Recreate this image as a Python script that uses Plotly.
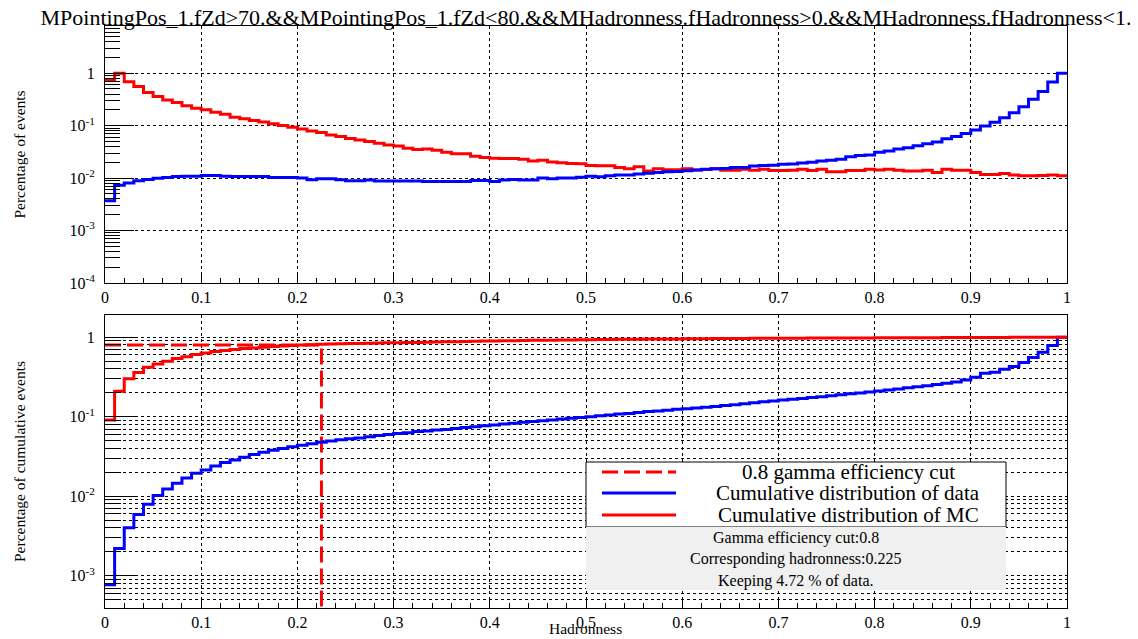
import numpy as np
import plotly.graph_objects as go

# ---------------- data ----------------
bin_edges = np.round(np.linspace(0.0, 1.0, 101), 2)  # Hadronness bins (width 0.01)

mc_pct = [0.75, 1.0, 0.69, 0.56, 0.43, 0.36, 0.31, 0.275, 0.24, 0.214,
          0.20, 0.18, 0.165, 0.144, 0.136, 0.125, 0.118, 0.109, 0.101, 0.093,
          0.086, 0.079, 0.074, 0.066, 0.062, 0.057, 0.053, 0.050, 0.046, 0.043,
          0.041, 0.037, 0.035, 0.036, 0.034, 0.031, 0.029, 0.029, 0.026, 0.0248,
          0.024, 0.0237, 0.0237, 0.0228, 0.0211, 0.022, 0.0203, 0.0197, 0.019, 0.0188,
          0.0174, 0.0172, 0.0172, 0.016, 0.015, 0.0164, 0.0136, 0.015, 0.0145, 0.0145,
          0.015, 0.0143, 0.0146, 0.015, 0.0141, 0.0141, 0.0147, 0.0141, 0.0147, 0.014,
          0.014, 0.0141, 0.0147, 0.014, 0.0147, 0.0132, 0.0132, 0.014, 0.014, 0.0147,
          0.0143, 0.0147, 0.0141, 0.0137, 0.0137, 0.0141, 0.0128, 0.0147, 0.0141, 0.0141,
          0.0128, 0.0117, 0.0117, 0.0122, 0.0115, 0.0111, 0.0111, 0.0112, 0.0115, 0.0111]

data_pct = [0.0037, 0.0073, 0.0081, 0.0089, 0.0094, 0.0099, 0.0103, 0.0107, 0.0109, 0.0109,
            0.0112, 0.0112, 0.0109, 0.0107, 0.0107, 0.0107, 0.0107, 0.0103, 0.0103, 0.0103,
            0.0101, 0.0093, 0.0097, 0.0097, 0.0093, 0.0089, 0.0089, 0.0092, 0.0088, 0.0088,
            0.0088, 0.0088, 0.0088, 0.0086, 0.0086, 0.0086, 0.0086, 0.0086, 0.009, 0.009,
            0.0086, 0.0092, 0.0094, 0.0092, 0.0092, 0.010, 0.0097, 0.010, 0.0101, 0.0104,
            0.0109, 0.0106, 0.0111, 0.0115, 0.0115, 0.012, 0.0124, 0.0128, 0.0132, 0.0134,
            0.0138, 0.0143, 0.0147, 0.015, 0.0153, 0.016, 0.0160, 0.017, 0.0173, 0.0176,
            0.0183, 0.0186, 0.0194, 0.0201, 0.0211, 0.0218, 0.0228, 0.0256, 0.027, 0.0277,
            0.031, 0.033, 0.0358, 0.038, 0.0415, 0.045, 0.049, 0.056, 0.062, 0.071,
            0.083, 0.099, 0.116, 0.142, 0.177, 0.23, 0.32, 0.45, 0.68, 1.0]

mc_cum = [0.091, 0.21, 0.30, 0.36, 0.42, 0.46, 0.50, 0.54, 0.57, 0.605,
          0.635, 0.66, 0.68, 0.70, 0.72, 0.735, 0.75, 0.763, 0.775, 0.787,
          0.797, 0.806, 0.814, 0.82, 0.826, 0.832, 0.837, 0.842, 0.847, 0.851,
          0.855, 0.859, 0.862, 0.866, 0.870, 0.875, 0.880, 0.885, 0.890, 0.895,
          0.899, 0.903, 0.907, 0.911, 0.914, 0.917, 0.920, 0.923, 0.926, 0.929,
          0.932, 0.935, 0.938, 0.941, 0.944, 0.946, 0.948, 0.950, 0.952, 0.954,
          0.956, 0.958, 0.960, 0.962, 0.964, 0.966, 0.968, 0.970, 0.971, 0.972,
          0.973, 0.974, 0.975, 0.976, 0.977, 0.978, 0.979, 0.980, 0.981, 0.982,
          0.983, 0.984, 0.985, 0.986, 0.987, 0.988, 0.989, 0.990, 0.991, 0.992,
          0.993, 0.994, 0.995, 0.996, 0.997, 0.998, 0.999, 0.9995, 1.0, 1.0]

data_cum = [0.00077, 0.0022, 0.0040, 0.0059, 0.0079, 0.0102, 0.0123, 0.0146, 0.0169, 0.0195,
            0.0214, 0.024, 0.0265, 0.0286, 0.031, 0.0334, 0.0358, 0.038, 0.040, 0.042,
            0.0438, 0.0457, 0.0479, 0.0494, 0.0513, 0.053, 0.0542, 0.0562, 0.058, 0.0596,
            0.0614, 0.063, 0.065, 0.066, 0.068, 0.069, 0.071, 0.073, 0.075, 0.077,
            0.079, 0.081, 0.083, 0.085, 0.087, 0.089, 0.091, 0.094, 0.096, 0.098,
            0.100, 0.103, 0.105, 0.108, 0.110, 0.113, 0.116, 0.118, 0.121, 0.124,
            0.126, 0.129, 0.132, 0.135, 0.139, 0.142, 0.146, 0.150, 0.154, 0.158,
            0.162, 0.166, 0.170, 0.175, 0.179, 0.184, 0.189, 0.194, 0.199, 0.205,
            0.211, 0.217, 0.224, 0.231, 0.238, 0.246, 0.254, 0.263, 0.273, 0.290,
            0.314, 0.352, 0.363, 0.396, 0.43, 0.48, 0.555, 0.647, 0.785, 1.0]

gamma_eff_cut = 0.8
cut_hadronness = 0.225
kept_data_pct = 4.72

title_text = ("MPointingPos_1.fZd>70.&&MPointingPos_1.fZd<80.&&"
              "MHadronness.fHadronness>0.&&MHadronness.fHadronness<1.")
legend_names = ["0.8 gamma efficiency cut", "Cumulative distribution of data",
                "Cumulative distribution of MC"]
x_ticks = [0, 0.1, 0.2, 0.3, 0.4, 0.5, 0.6, 0.7, 0.8, 0.9, 1]
x_ticktext = ["0", "0.1", "0.2", "0.3", "0.4", "0.5", "0.6", "0.7", "0.8", "0.9", "1"]
top_yticks = [1, 1e-1, 1e-2, 1e-3, 1e-4]
top_yticktext = ["1", "10<sup>-1</sup>", "10<sup>-2</sup>", "10<sup>-3</sup>", "10<sup>-4</sup>"]
bot_yticks = [1, 1e-1, 1e-2, 1e-3]
bot_yticktext = ["1", "10<sup>-1</sup>", "10<sup>-2</sup>", "10<sup>-3</sup>"]

# ---------------- figure ----------------
FONT = "Liberation Serif"
W, H = 1138, 639
OFF = 8  # default page body margin shifts the figure by 8 px
# target plot frame on screen: x 105..1067, y 26..608
ml, mr, mt, mb = 105 - OFF, W - 1067 + OFF, 26 - OFF, H - 608 + OFF
plot_w = W - ml - mr
plot_h = H - mt - mb
top_dom = [(608 - 283) / plot_h, 1.0]
bot_dom = [0.0, (608 - 315) / plot_h]


def px(xs):  # screen x -> paper
    return (xs - 105) / plot_w


def py(ys):  # screen y -> paper
    return (608 - ys) / plot_h


def step(vals):
    return list(vals) + [vals[-1]]


minor_log = [k * 10.0 ** n for n in range(-5, 1) for k in range(2, 10)]

fig = go.Figure()
RED, BLUE = "#ff0000", "#0000ff"
DASH = "16px,6px"

fig.add_trace(go.Scatter(x=bin_edges, y=step(mc_pct), mode="lines", line_shape="hv",
                         line=dict(color=RED, width=3), xaxis="x", yaxis="y",
                         showlegend=False, name="MC"))
fig.add_trace(go.Scatter(x=bin_edges, y=step(data_pct), mode="lines", line_shape="hv",
                         line=dict(color=BLUE, width=3), xaxis="x", yaxis="y",
                         showlegend=False, name="data"))

fig.add_trace(go.Scatter(x=[0, cut_hadronness, cut_hadronness],
                         y=[gamma_eff_cut, gamma_eff_cut, 1e-6],
                         mode="lines", line=dict(color=RED, width=3, dash=DASH),
                         xaxis="x2", yaxis="y2", name=legend_names[0], showlegend=False))
fig.add_trace(go.Scatter(x=bin_edges, y=step(data_cum), mode="lines", line_shape="hv",
                         line=dict(color=BLUE, width=3), xaxis="x2", yaxis="y2",
                         name=legend_names[1], showlegend=False))
fig.add_trace(go.Scatter(x=bin_edges, y=step(mc_cum), mode="lines", line_shape="hv",
                         line=dict(color=RED, width=3), xaxis="x2", yaxis="y2",
                         name=legend_names[2], showlegend=False))

tickfont = dict(family=FONT, size=16, color="black")
xcommon = dict(range=[0, 1], tickvals=x_ticks, ticktext=x_ticktext, ticks="inside",
               ticklen=10, tickcolor="black", showline=True, linecolor="black",
               linewidth=1, mirror=True, showgrid=True, gridcolor="black",
               griddash="dot", gridwidth=1, zeroline=False, tickfont=tickfont,
               automargin=False,
               minor=dict(dtick=0.02, ticks="inside", ticklen=5, tickcolor="black",
                          showgrid=False))

fig.update_layout(
    width=W, height=H,
    margin=dict(l=ml, r=mr, t=mt, b=mb, autoexpand=False),
    paper_bgcolor="white", plot_bgcolor="white",
    font=dict(family=FONT, color="black"),
    title=dict(text=title_text, x=0.5, xref="paper", y=1 - (17 - OFF) / H, yref="container",
               xanchor="center", yanchor="middle", automargin=False,
               font=dict(family=FONT, size=22, color="black")),
    xaxis=dict(domain=[0, 1], anchor="y", **xcommon),
    xaxis2=dict(domain=[0, 1], anchor="y2", **xcommon),
    yaxis=dict(domain=top_dom, anchor="x", type="log", range=[-4, 0.9],
               tickvals=top_yticks, ticktext=top_yticktext, ticks="inside",
               ticklen=29, tickcolor="black", showline=True, linecolor="black",
               mirror=True, showgrid=True, gridcolor="black", griddash="dot",
               zeroline=False, tickfont=tickfont, ticklabelstandoff=6, automargin=False,
               title=dict(text="Percentage of events", standoff=40,
                          font=dict(family=FONT, size=15.5)),
               minor=dict(tickvals=minor_log, ticks="inside", ticklen=15,
                          tickcolor="black", showgrid=False)),
    yaxis2=dict(domain=bot_dom, anchor="x2", type="log", range=[-3.406, 0.28],
                tickvals=bot_yticks, ticktext=bot_yticktext, ticks="inside",
                ticklen=30, tickcolor="black", showline=True, linecolor="black",
                mirror=True, showgrid=True, gridcolor="black", griddash="dot",
                zeroline=False, tickfont=tickfont, ticklabelstandoff=6, automargin=False,
                title=dict(text="Percentage of cumulative events", standoff=40,
                           font=dict(family=FONT, size=15.5)),
                minor=dict(tickvals=minor_log, ticks="inside", ticklen=16,
                           tickcolor="black", showgrid=True, gridcolor="black",
                           griddash="dot")),
    showlegend=False,
)

# x-axis title of the lower pad (sits just under the tick labels, as in ROOT)
fig.add_annotation(text="Hadronness", xref="paper", yref="paper", x=px(585), y=py(628),
                   xanchor="center", yanchor="middle", showarrow=False,
                   font=dict(family=FONT, size=15.5, color="black"))

# ---- legend box (ROOT TLegend style) ----
shapes = [
    dict(type="rect", xref="paper", yref="paper", x0=px(586), x1=px(1006),
         y0=py(527), y1=py(462), line=dict(color="black", width=1),
         fillcolor="white", layer="above"),
    dict(type="line", xref="paper", yref="paper", x0=px(602), x1=px(676),
         y0=py(472), y1=py(472), line=dict(color=RED, width=3, dash=DASH), layer="above"),
    dict(type="line", xref="paper", yref="paper", x0=px(602), x1=px(676),
         y0=py(493), y1=py(493), line=dict(color=BLUE, width=3), layer="above"),
    dict(type="line", xref="paper", yref="paper", x0=px(602), x1=px(676),
         y0=py(515), y1=py(515), line=dict(color=RED, width=3), layer="above"),
    dict(type="rect", xref="paper", yref="paper", x0=px(586), x1=px(1006),
         y0=py(590), y1=py(527), line=dict(width=0),
         fillcolor="#f0f0f0", layer="above"),
]
fig.update_layout(shapes=shapes)

for name, yc in zip(legend_names, [472, 493, 515]):
    fig.add_annotation(text=name, xref="paper", yref="paper", x=px(848), y=py(yc),
                       xanchor="center", yanchor="middle", showarrow=False,
                       font=dict(family=FONT, size=21, color="black"))

stats_lines = ["Gamma efficiency cut:%g" % gamma_eff_cut,
               "Corresponding hadronness:%g" % cut_hadronness,
               "Keeping %.2f %% of data." % kept_data_pct]
for line, yc in zip(stats_lines, [538, 559, 581]):
    fig.add_annotation(text=line, xref="paper", yref="paper", x=px(796), y=py(yc),
                       xanchor="center", yanchor="middle", showarrow=False,
                       font=dict(family=FONT, size=16, color="black"))

fig.write_html("out.html")
